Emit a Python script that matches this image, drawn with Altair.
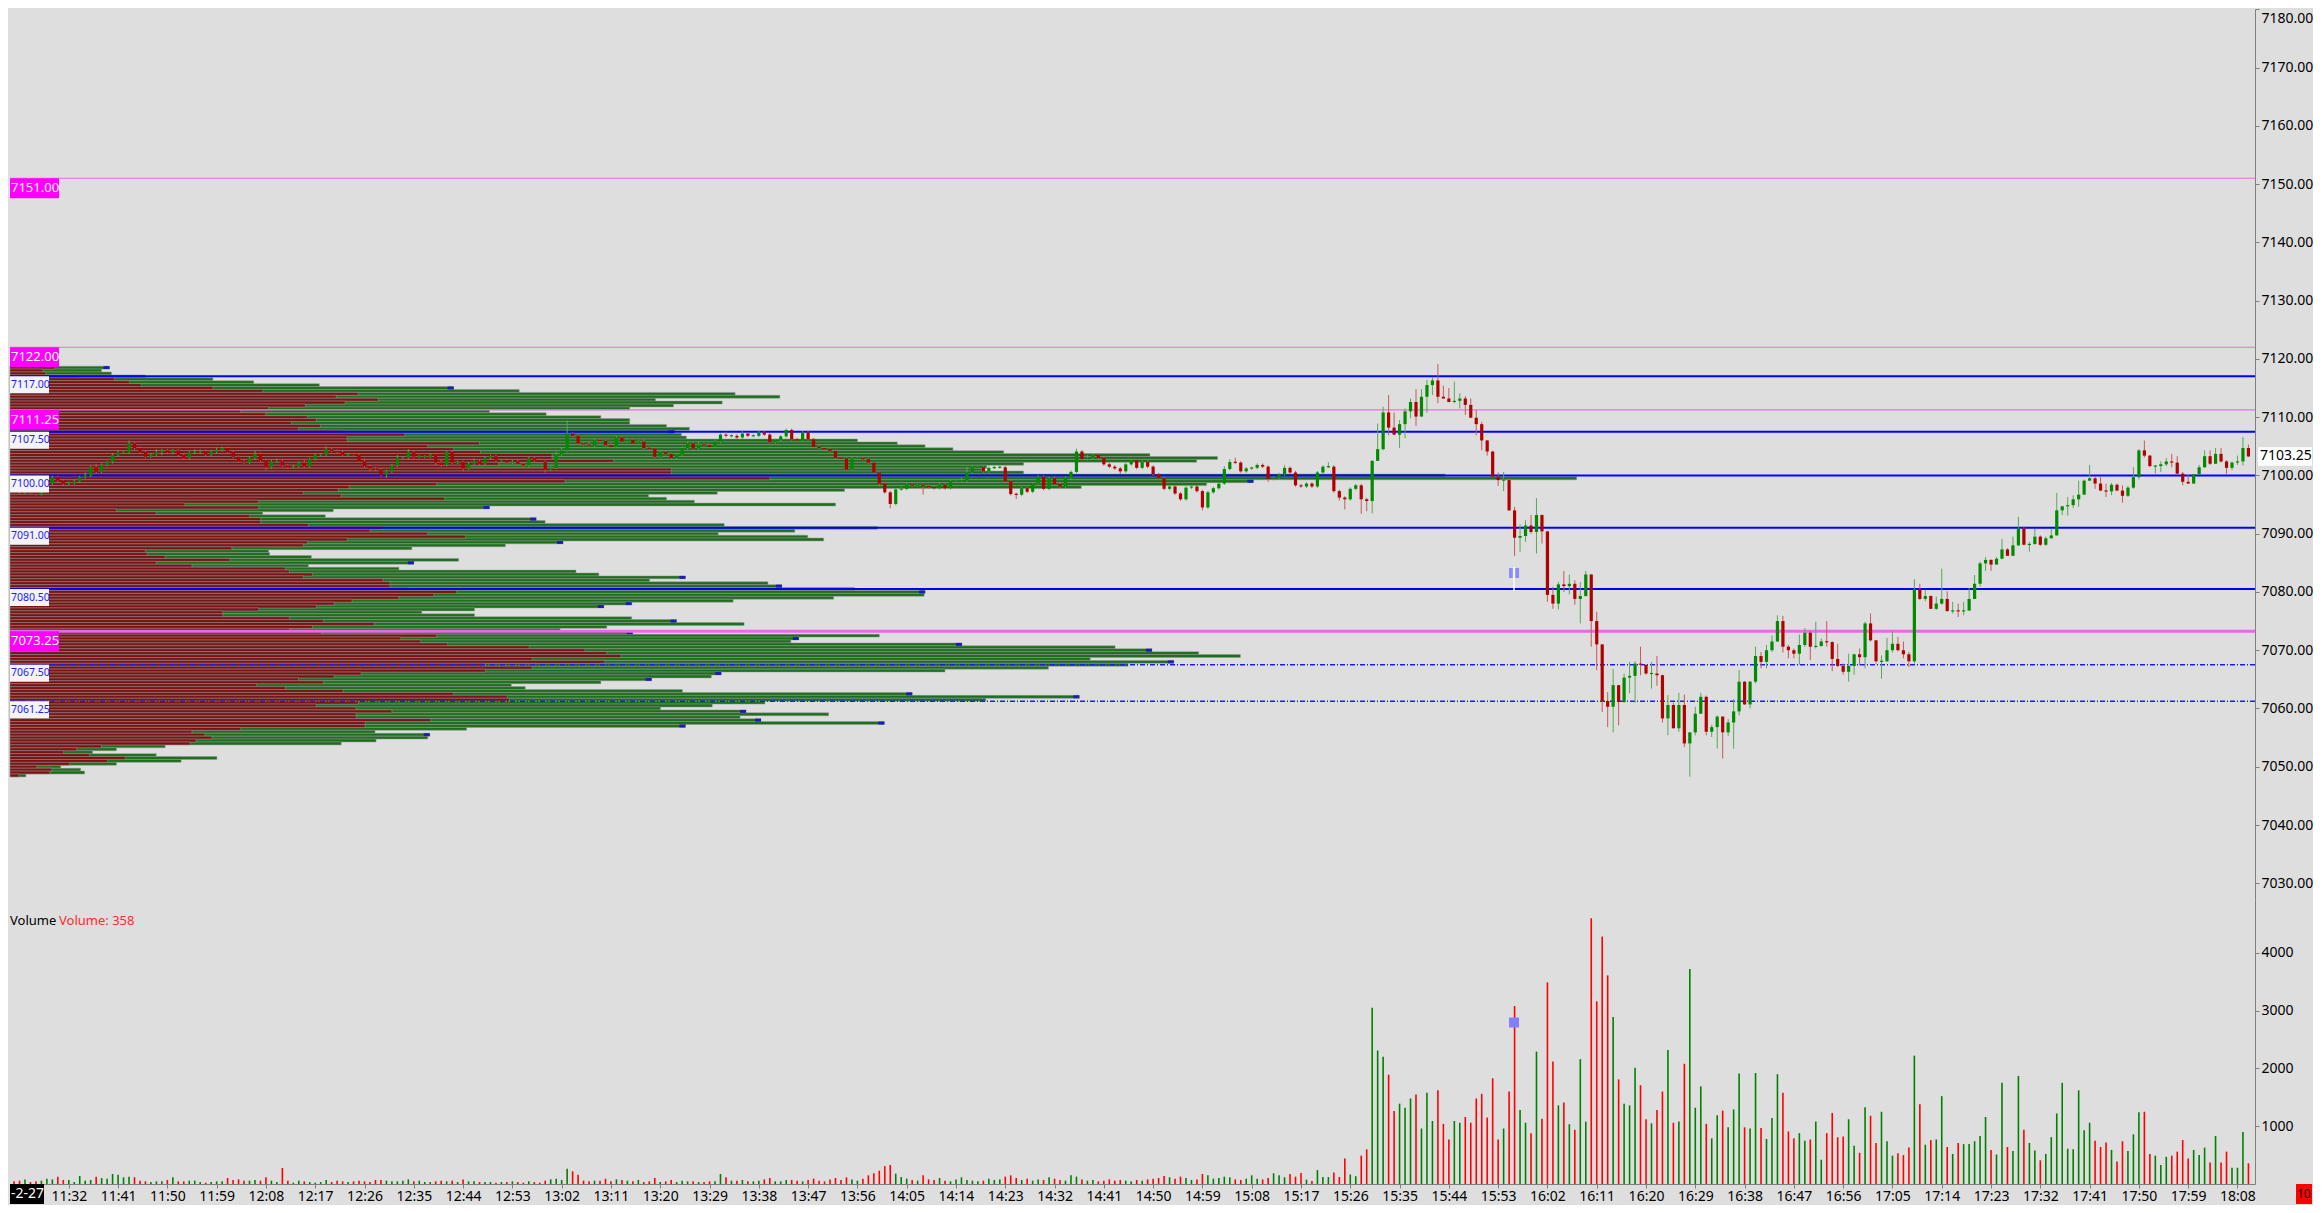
import altair as alt
import pandas as pd

W, H1, H2 = 2245, 890, 285

PRICE_MIN, PRICE_MAX = 7027.3, 7180.05
VOL_MAX = 4931
price_ticks = list(range(7030, 7181, 10))
vol_ticks = [1000, 2000, 3000, 4000]

# ---------------- candles (1 minute, from 11:22) ----------------
first_open = 7097.75
closes = [
    7097.5, 7097.1, 7097.1, 7097.0, 7096.8, 7098.6, 7098.6, 7099.7, 7099.1, 7098.6,
    7098.7, 7099.0, 7099.7, 7100.0, 7101.4, 7100.6, 7101.8, 7102.3, 7103.5, 7103.9,
    7103.9, 7105.5, 7104.7, 7104.0, 7103.2, 7103.6, 7104.0, 7104.3, 7103.9, 7104.3,
    7103.5, 7103.0, 7103.9, 7104.0, 7104.2, 7103.6, 7104.0, 7104.3, 7104.7, 7104.0,
    7103.2, 7102.4, 7102.2, 7103.0, 7103.7, 7102.6, 7101.4, 7102.4, 7102.4, 7101.7,
    7101.4, 7101.6, 7102.2, 7101.6, 7102.8, 7103.5, 7103.6, 7104.5, 7104.2, 7104.0,
    7103.5, 7103.6, 7103.5, 7102.4, 7101.6, 7101.2, 7101.0, 7100.1, 7100.7, 7101.7,
    7103.0, 7103.0, 7104.0, 7103.2, 7103.2, 7103.2, 7103.6, 7102.2, 7101.8, 7104.0,
    7102.2, 7102.3, 7101.2, 7102.0, 7102.4, 7102.0, 7103.0, 7103.3, 7102.6, 7102.6,
    7102.2, 7102.4, 7102.0,
    7101.7, 7102.9, 7102.6, 7102.3, 7101.0, 7101.3, 7103.6, 7104.3, 7107.2, 7106.8,
    7105.5, 7105.3, 7105.1, 7106.1, 7105.9, 7105.2, 7104.9, 7106.5, 7105.8, 7106.1,
    7105.5, 7105.8, 7104.7, 7104.6, 7103.2, 7104.0, 7103.7, 7103.0, 7103.6, 7104.7,
    7105.5, 7104.6, 7105.3, 7105.2, 7104.9, 7105.8, 7107.0, 7106.8, 7106.8, 7106.5,
    7107.2, 7106.8, 7106.8, 7107.4, 7107.0, 7105.7, 7106.1, 7106.7, 7107.8, 7106.2,
    7106.0, 7107.4, 7106.2, 7104.9, 7104.7, 7104.5, 7104.2, 7103.0, 7102.9, 7101.0,
    7102.9, 7102.9, 7102.8, 7102.2, 7100.5, 7098.6, 7097.1, 7095.1, 7097.6, 7097.7,
    7098.4, 7098.3, 7098.3, 7098.2, 7098.0, 7097.8, 7098.4, 7097.8, 7099.0, 7099.0,
    7099.1, 7100.5, 7101.4, 7101.4, 7100.7, 7101.3, 7101.4, 7101.4, 7099.0, 7096.8,
    7096.7, 7097.8, 7097.2, 7098.6, 7099.8,
    7097.7, 7099.5, 7098.5, 7098.1, 7099.6, 7100.6, 7104.1, 7102.8, 7103.0, 7103.5,
    7103.0, 7101.9, 7101.5, 7101.2, 7100.7, 7101.9, 7102.6, 7101.3, 7102.3, 7101.5,
    7100.2, 7099.5, 7097.7, 7098.1, 7096.9, 7095.9, 7097.9, 7098.1, 7097.3, 7094.5,
    7097.1, 7097.8, 7098.6, 7101.1, 7102.3, 7102.2, 7100.7, 7101.2, 7101.3, 7101.8,
    7101.5, 7099.4, 7099.6, 7100.2, 7101.3, 7100.5, 7098.3, 7098.1, 7098.6, 7098.1,
    7100.5, 7101.5, 7101.5, 7097.3, 7096.2, 7095.9, 7097.7, 7098.3, 7095.9, 7095.6,
    7102.5, 7104.5, 7110.8, 7108.2, 7107.0, 7108.8, 7111.0, 7112.6, 7110.1, 7113.5,
    7115.5, 7116.3, 7113.5, 7113.2, 7112.6, 7112.8, 7113.2, 7112.1, 7109.9, 7108.8,
    7106.0, 7104.1, 7099.8, 7099.2, 7099.2, 7094.0, 7089.3, 7089.6, 7091.4, 7090.3,
    7093.2, 7090.4, 7079.5,
    7078.0, 7081.3, 7081.0, 7081.4, 7078.8, 7079.3, 7083.0, 7075.0, 7071.0, 7061.3,
    7060.3, 7064.0, 7061.1, 7065.3, 7065.6, 7067.7, 7067.5, 7066.0, 7066.0, 7065.7,
    7058.3, 7060.6, 7056.6, 7060.6, 7054.0, 7055.9, 7059.1, 7062.0, 7056.0, 7056.8,
    7058.6, 7055.9, 7057.6, 7059.5, 7064.6, 7060.7, 7064.6, 7069.0, 7068.0, 7070.0,
    7071.5, 7075.0, 7070.6, 7070.0, 7069.4, 7070.9, 7073.0, 7070.6, 7070.7, 7071.5,
    7071.4, 7068.5, 7067.3, 7066.3, 7067.3, 7069.3, 7068.8, 7074.6, 7071.7, 7068.1,
    7068.1, 7070.0, 7071.1, 7070.0, 7069.3, 7068.1, 7080.5, 7078.8, 7079.3, 7077.1,
    7078.0, 7078.8, 7076.7, 7076.8, 7076.7, 7076.8, 7078.8, 7081.4, 7084.9, 7085.5,
    7084.7, 7085.7, 7087.3, 7086.2, 7088.0, 7090.9, 7088.1, 7088.2, 7089.5, 7088.1,
    7089.2, 7089.7,
    7094.0, 7094.7, 7094.9, 7095.9, 7096.7, 7099.1, 7099.5, 7098.6, 7097.4, 7097.25,
    7098.4, 7097.4, 7096.5, 7097.9, 7099.7, 7104.3, 7103.4, 7101.6, 7101.6, 7101.9,
    7102.4, 7102.2, 7100.3, 7098.9, 7098.6, 7100.2, 7101.4, 7103.3, 7102.0, 7103.7,
    7102.4, 7101.3, 7102.2, 7102.4, 7104.7, 7103.25,
]

# wick lengths (quarter points) for the quiet session part
wick_up_q = [
    1, 1, 0, 1, 1, 1, 2, 1, 1, 1,  1, 1, 1, 2, 1, 2, 1, 1, 1, 2,
    1, 2, 1, 1, 1, 1, 2, 1, 1, 1,  1, 1, 1, 2, 1, 1, 1, 2, 1, 1,
    1, 1, 1, 1, 2, 1, 1, 1, 2, 1,  1, 1, 1, 2, 1, 1, 1, 2, 1, 1,
    1, 1, 1, 1, 2, 1, 1, 1, 1, 1,  2, 1, 2, 1, 1, 1, 1, 1, 2, 1,
    1, 1, 1, 1, 2, 1, 1, 1, 1, 1,  1, 1, 1, 1, 1, 1, 1, 1, 1, 2,
    2, 9, 1, 1, 1, 2, 1, 1, 1, 2,  1, 1, 1, 1, 1, 2, 1, 1, 1, 1,
    1, 1, 1, 1, 1, 2, 1, 1, 1, 1,  2, 1, 1, 2, 1, 1, 1, 1, 1, 1,
    1, 1, 1, 1, 1, 1, 1, 1, 1, 1,  1, 1, 1, 1, 1, 1, 1, 1, 1, 1,
    1, 1, 1, 1, 1, 1, 1, 1, 1, 1,  1, 1, 1, 2, 4, 1, 1, 1, 1, 1,
    1, 1, 1, 1, 1, 1, 1, 1, 1, 1,  1, 1, 1, 1, 2, 1, 2, 1, 1, 1,
    1, 1, 1, 1, 1, 1, 1, 1, 1, 1,  1, 1, 1, 1, 1, 1, 1, 1, 1, 1,
    1, 2, 2, 3, 1, 1, 1, 1, 1, 1,  1, 1, 2, 1, 1, 1, 1, 1, 1, 1,
    3, 1, 1, 1, 1, 1, 1, 1,
]
wick_dn_q = [
    1, 1, 1, 1, 1, 1, 1, 1, 1, 1,  1, 1, 1, 1, 1, 1, 1, 1, 1, 1,
    1, 1, 1, 1, 1, 1, 1, 2, 1, 1,  1, 1, 1, 1, 1, 1, 1, 1, 1, 1,
    1, 1, 1, 1, 1, 1, 2, 1, 1, 1,  1, 1, 1, 1, 1, 1, 1, 1, 1, 1,
    1, 1, 1, 1, 1, 2, 1, 1, 2, 1,  1, 1, 1, 1, 1, 1, 1, 2, 1, 1,
    1, 1, 2, 1, 1, 1, 1, 1, 1, 1,  1, 1, 1, 1, 1, 1, 1, 2, 1, 1,
    1, 1, 1, 1, 1, 1, 1, 1, 1, 1,  1, 1, 1, 1, 1, 1, 1, 1, 1, 1,
    1, 1, 1, 1, 1, 1, 1, 1, 1, 1,  1, 1, 1, 1, 1, 1, 1, 1, 1, 1,
    1, 1, 1, 1, 1, 1, 1, 1, 1, 1,  1, 1, 1, 1, 1, 1, 1, 1, 2, 1,
    3, 1, 1, 1, 1, 1, 6, 1, 1, 1,  1, 1, 1, 1, 1, 1, 1, 1, 1, 1,
    1, 1, 1, 3, 1, 1, 1, 1, 1, 1,  1, 1, 1, 1, 1, 1, 1, 1, 1, 1,
    1, 1, 2, 1, 1, 1, 1, 1, 1, 1,  1, 1, 1, 1, 1, 1, 1, 2, 1, 1,
    1, 1, 1, 1, 1, 1, 1, 1, 1, 2,  1, 1, 1, 1, 1, 1, 1, 1, 1, 1,
    1, 1, 2, 7, 1, 1, 10, 7,
]
# highs / lows for the active part (from 15:30)
high_late = [
    7102.6, 7108.9, 7111.8, 7113.8, 7110.8, 7109.5, 7111.5, 7113.2, 7114.8, 7114.8,
    7116.4, 7116.9, 7119.1, 7115.4, 7115.0, 7116.1, 7114.1, 7113.6, 7113.2, 7111.2,
    7109.2, 7106.1, 7104.2, 7100.5, 7100.6, 7099.5, 7094.6, 7091.6, 7092.3, 7093.2,
    7096.1, 7093.3, 7090.4, 7080.9,
    7081.7, 7083.6, 7083.0, 7082.0, 7081.7, 7083.6, 7083.0, 7076.6, 7071.0, 7062.8,
    7066.8, 7062.9, 7066.0, 7068.0, 7068.1, 7070.6, 7067.5, 7068.0, 7069.0, 7065.8,
    7062.3, 7061.0, 7062.7, 7062.4, 7055.9, 7060.3, 7062.7, 7062.2, 7057.2, 7058.8,
    7058.7, 7058.2, 7061.6, 7066.6, 7064.7, 7064.7, 7070.6, 7069.7, 7070.9, 7072.5,
    7076.0, 7075.9, 7070.9, 7070.3, 7072.7, 7073.8, 7073.3, 7074.9, 7072.0, 7075.0,
    7071.5, 7071.1, 7067.7, 7069.4, 7069.4, 7070.3, 7074.9, 7076.3, 7071.5, 7069.1,
    7072.1, 7073.3, 7072.3, 7071.5, 7069.7, 7082.2, 7081.4, 7080.3, 7079.4, 7079.2,
    7084.0, 7080.1, 7078.3, 7078.0, 7078.3, 7080.7, 7082.9, 7085.2, 7086.0, 7085.6,
    7086.0, 7089.1, 7087.5, 7089.5, 7092.9, 7091.3, 7088.6, 7090.8, 7089.7, 7089.5,
    7090.8,
    7097.0, 7094.7, 7096.3, 7096.6, 7099.1, 7099.3, 7101.8, 7099.9, 7099.7, 7098.6,
    7098.7, 7098.6, 7098.3, 7098.2, 7101.4, 7104.5, 7106.0, 7103.5, 7101.8, 7102.4,
    7103.0, 7103.7, 7103.3, 7100.6, 7100.1, 7100.1, 7101.8, 7104.3, 7104.3, 7104.7,
    7104.7, 7102.6, 7102.4, 7103.4, 7106.6, 7105.3,
]
low_late = [
    7093.5, 7102.6, 7104.3, 7106.9, 7106.9, 7104.7, 7106.4, 7109.8, 7108.5, 7110.1,
    7110.8, 7113.8, 7112.4, 7113.2, 7112.6, 7112.4, 7111.5, 7110.4, 7109.9, 7106.9,
    7104.3, 7103.4, 7099.7, 7098.2, 7097.3, 7093.9, 7086.2, 7086.9, 7088.6, 7090.0,
    7086.6, 7088.3, 7078.3, 7077.1,
    7077.0, 7080.0, 7079.6, 7077.8, 7074.6, 7079.2, 7070.6, 7066.6, 7059.4, 7056.8,
    7055.9, 7057.1, 7061.0, 7062.6, 7061.0, 7065.7, 7065.8, 7063.4, 7063.9, 7057.6,
    7055.4, 7056.6, 7056.0, 7053.4, 7048.3, 7055.4, 7059.1, 7055.4, 7055.1, 7053.1,
    7051.4, 7055.3, 7053.1, 7058.8, 7060.6, 7060.0, 7064.3, 7066.9, 7066.9, 7069.7,
    7071.4, 7069.6, 7068.6, 7068.6, 7067.5, 7070.6, 7068.3, 7070.3, 7070.9, 7070.6,
    7066.4, 7067.1, 7065.8, 7064.6, 7065.8, 7067.4, 7066.9, 7071.5, 7067.7, 7065.1,
    7068.0, 7069.6, 7069.8, 7068.6, 7067.1, 7067.7, 7078.6, 7078.4, 7077.6, 7076.9,
    7077.8, 7076.9, 7076.3, 7075.7, 7076.0, 7077.3, 7079.0, 7080.9, 7083.6, 7083.6,
    7084.7, 7085.6, 7086.2, 7086.4, 7087.9, 7088.0, 7086.9, 7088.3, 7087.9, 7087.9,
    7089.2,
    7093.1, 7093.2, 7093.1, 7094.4, 7094.6, 7096.7, 7099.3, 7097.7, 7097.3, 7096.3,
    7096.6, 7097.3, 7095.3, 7096.3, 7097.7, 7099.3, 7103.1, 7101.4, 7100.3, 7100.6,
    7101.6, 7101.4, 7100.1, 7098.3, 7098.6, 7098.7, 7100.1, 7101.3, 7101.8, 7102.2,
    7102.2, 7100.3, 7100.9, 7101.8, 7101.7, 7103.2,
]
volumes = [
    46, 58, 80, 35, 46, 58, 92, 80, 127, 70,
    70, 35, 139, 58, 70, 127, 104, 92, 173, 162,
    116, 127, 116, 58, 46, 35, 46, 46, 70, 116,
    46, 46, 58, 58, 35, 23, 35, 46, 46, 104,
    70, 80, 58, 58, 70, 58, 116, 58, 35, 277,
    58, 23, 58, 46, 35, 23, 35, 70, 35, 58,
    46, 35, 46, 58, 46, 35, 70, 70, 58, 46,
    46, 58, 80, 46, 58, 35, 35, 46, 58, 46,
    58, 35, 80, 46, 46, 35, 35, 35, 23, 35,
    35, 46, 35, 23, 46, 35, 23, 58, 80, 92,
    70, 266, 220, 162, 58, 46, 58, 58, 92, 46,
    80, 70, 58, 46, 70, 35, 46, 104, 35, 46,
    70, 35, 58, 46, 46, 35, 35, 46, 46, 173,
    116, 58, 58, 70, 46, 46, 58, 80, 104, 46,
    46, 70, 70,
    58, 46, 70, 92, 58, 46, 80, 104, 70, 116,
    80, 58, 92, 150, 185, 230, 310, 330, 180, 120,
    92, 70, 58, 150, 80, 70, 104, 58, 46, 80,
    116, 70, 58, 46, 58, 92, 70, 80, 127, 150,
    104, 70, 92, 58, 80, 70, 116, 92, 70, 58,
    150, 127, 80, 58, 70, 46, 58, 80, 58, 70,
    58, 46, 70, 58, 80, 92, 104, 140, 116, 92,
    127, 104, 70, 80, 173, 150, 92, 104, 127, 116,
    80, 70, 92, 150, 92, 80, 104, 185, 150, 116,
    173, 127,
    190, 75, 50, 240, 120, 120, 200, 120, 440, 165,
    135, 490, 600, 3050, 2310, 2200, 1890, 1265, 1390, 1320,
    1480, 1550, 960, 1580, 1090, 1620, 1040, 770, 1090, 1060,
    1160, 1060, 1480, 1560, 1150, 1830, 770, 960, 1600, 3080,
    1280, 1060, 880, 2290, 1130, 3490, 2120, 1360, 1410, 1035,
    940, 2160, 1080, 4600, 3160, 4280, 3610, 2890, 1810, 1390,
    1360, 2010, 1710, 1120, 1050, 1280, 1600, 2320, 1060, 1080,
    2080, 3720, 1320, 1690, 1040, 790, 1190, 1270, 980, 1290,
    1910, 980, 960, 1920, 970, 780, 1140, 1900, 1580, 910,
    790, 880, 750, 770, 1080, 420, 880, 1230, 810, 820,
    1120, 660, 540, 1330, 1180, 710, 1250, 740, 490, 530,
    500, 630, 2220, 1380, 680, 760, 770, 1520, 640, 520,
    710, 690, 690, 740, 830, 1160, 590, 510, 1750, 640,
    570, 1870, 940, 710, 580, 410, 520, 810, 1220, 1750,
    610, 600, 1620, 930, 1060, 750, 640, 720, 590, 390,
    740, 570, 860, 1240, 1250, 520, 490, 330, 470, 490,
    560, 760, 440, 590, 500, 630, 370, 830, 370, 560,
    280, 280, 900, 358,
]

# ---------------- volume profile (rows of 0.5 pt, from top) ----------------
prof_top = 7118.5
prof_red = [
    45, 33, 36, 67, 105, 120, 132, 204, 254, 350,
    328, 370, 337, 297, 260, 232, 257, 299, 308, 283,
    312, 290, 335, 397, 339, 339, 472, 420, 446, 473,
    545, 545, 607, 491, 460, 665, 665, 665, 764, 558,
    429, 341, 330, 295, 333, 437, 250, 176, 250, 107,
    147, 241, 252, 252, 300, 375, 362, 420, 458, 339,
    299, 295, 223, 136, 138, 156, 221, 147, 183, 277,
    281, 304, 295, 375, 382, 382, 400, 449, 426, 391,
    344, 326, 308, 250, 214, 214, 281, 315, 366, 304,
    281, 313, 429, 393, 413, 440, 522, 578, 600, 614,
    525, 598, 478, 525, 478, 353, 326, 290, 315, 248,
    277, 335, 446, 500, 502, 350, 308, 348, 384, 348,
    348, 423, 357, 357, 232, 183, 196, 203, 187, 181,
    92, 67, 54, 80, 116, 98, 60, 27, 42, 40,
    9,
]
prof_total = [
    100, 92, 102, 136, 204, 245, 311, 446, 512, 729,
    774, 649, 716, 667, 623, 482, 539, 594, 623, 623,
    660, 683, 668, 675, 680, 852, 892, 920, 948, 999,
    1146, 1214, 1193, 1019, 982, 977, 1019, 1443, 1575, 1250,
    1203, 1077, 839, 711, 642, 660, 688, 830, 482, 325,
    254, 317, 529, 538, 718, 872, 789, 712, 802, 818,
    556, 498, 404, 260, 261, 303, 451, 406, 300, 391,
    569, 592, 679, 643, 762, 776, 849, 920, 919, 828,
    727, 625, 597, 467, 414, 467, 625, 670, 738, 600,
    553, 626, 874, 793, 785, 957, 1111, 1148, 1195, 1237,
    1086, 1170, 1124, 1044, 940, 715, 705, 645, 594, 504,
    518, 676, 907, 1075, 981, 759, 706, 654, 740, 823,
    734, 755, 879, 679, 459, 367, 422, 420, 368, 333,
    156, 107, 83, 147, 208, 172, 107, 51, 71, 75,
    16,
]
prof_tips = [7118.5, 7115.0, 7107.5, 7099.0, 7094.5, 7092.5, 7088.5, 7085.0,
             7082.5, 7081.0, 7080.0, 7078.0, 7077.5, 7075.0, 7073.0, 7072.0,
             7071.0, 7070.0, 7068.0, 7066.0, 7065.0, 7062.5, 7062.0, 7059.5,
             7058.0, 7057.5, 7057.0, 7055.5]

# ---------------- levels ----------------
blue_levels = [7117.00, 7107.50, 7100.00, 7091.00, 7080.50]
dash_levels = [7067.50, 7061.25]
magenta_thin = [7151.00, 7122.00, 7111.25]
magenta_thick = [7073.25]
magenta_labels = [7151.00, 7122.00, 7111.25, 7073.25]
blue_labels = [7117.00, 7107.50, 7100.00, 7091.00, 7080.50, 7067.50, 7061.25]
last_price = 7103.25
last_volume = 358
marker_price = [7080.2, 7084.3, 7083.25]
marker_volume = 2794

# ---------------- build tables ----------------
n = len(closes)
times = pd.date_range("2025-02-27 11:22:00", periods=n, freq="min")
opens = [first_open] + closes[:-1]
ne = len(wick_up_q)
rows = []
for i in range(n):
    o, c = opens[i], closes[i]
    if i < ne:
        h = max(o, c) + 0.25 * wick_up_q[i]
        l = min(o, c) - 0.25 * wick_dn_q[i]
    else:
        h = max(high_late[i - ne], o, c)
        l = min(low_late[i - ne], o, c)
    up = c >= o
    blo, bhi = min(o, c), max(o, c)
    if bhi - blo < 0.2:
        mid = (o + c) / 2
        blo, bhi = mid - 0.1, mid + 0.1
    rows.append(dict(t=times[i], h=h, l=l, blo=blo, bhi=bhi,
                     vol=volumes[i], zero=0,
                     bcol="#008a00" if up else "#b00000",
                     wcol="#58a858" if up else "#c85858",
                     vcol="#008000" if up else "#ff0000"))
cdf = pd.DataFrame(rows)

n_prof = len(prof_total)
pdf = pd.DataFrame(dict(p=[prof_top - 0.5 * i for i in range(n_prof)],
                        red=prof_red, tot=prof_total))
pdf["p_lo"] = pdf.p - 0.25
pdf["p_hi"] = pdf.p + 0.25
pdf["zero"] = 0
pdf["tip0"] = pdf.tot - 6
tips_df = pdf[pdf.p.isin(prof_tips)]


def dt(h, m, s=0):
    return alt.DateTime(year=2025, month=2, date=27, hours=h, minutes=m, seconds=s)


t_scale = alt.Scale(domain=[dt(11, 21, 16), dt(18, 11, 12)])
tick_vals = []
for k in range(45):
    mm = 11 * 60 + 32 + 9 * k
    tick_vals.append(dt(mm // 60, mm % 60))

FONT = "Noto Sans"
yscale = alt.Scale(domain=[PRICE_MIN, PRICE_MAX], nice=False, zero=False)
yaxis = alt.Axis(orient="right", values=price_ticks, format=".2f", title=None, grid=False,
                 labelFont=FONT, labelFontSize=14, labelColor="#000000",
                 tickColor="#7f7f7f", tickSize=4, domainColor="#7f7f7f",
                 labelPadding=2, labelFlush=3, labelFlushOffset=-2)


def Y(f):
    return alt.Y(f, type="quantitative", scale=yscale, axis=yaxis)


pscale = alt.Scale(domain=[0, 2257], nice=False, zero=False)
X_t = alt.X("t:T", scale=t_scale, axis=None)

prof_green = alt.Chart(pdf).mark_rect(color="#1e6e1e", stroke="#969696", strokeWidth=0.5).encode(
    x=alt.X("zero:Q", scale=pscale, axis=None), x2=alt.X2("tot"), y=Y("p_lo"), y2=alt.Y2("p_hi"))
prof_redl = alt.Chart(pdf).mark_rect(color="#7a1414", stroke="#969696", strokeWidth=0.5).encode(
    x=alt.X("zero:Q", scale=pscale, axis=None), x2=alt.X2("red"), y=Y("p_lo"), y2=alt.Y2("p_hi"))
prof_tip = alt.Chart(tips_df).mark_rect(color="#1c1cb8").encode(
    x=alt.X("tip0:Q", scale=pscale, axis=None), x2=alt.X2("tot"), y=Y("p_lo"), y2=alt.Y2("p_hi"))


def hlines(levels, color, width, dash=None):
    kw = dict(color=color, strokeWidth=width)
    if dash:
        kw["strokeDash"] = dash
    return alt.Chart(pd.DataFrame({"p": levels})).mark_rule(**kw).encode(
        y=Y("p"), x=alt.value(0), x2=alt.value(W))


l_mag = hlines(magenta_thin, "#e272e2", 1.2)
l_blue = hlines(blue_levels, "#0000ff", 2)
l_magt = hlines(magenta_thick, "#ee66ee", 3)
l_dash = hlines(dash_levels, "#1a1aff", 1.5, [5, 2, 1, 2])

wicks = alt.Chart(cdf).mark_rule(strokeWidth=1).encode(
    x=X_t, y=Y("l"), y2=alt.Y2("h"), color=alt.Color("wcol:N", scale=None))
bodies = alt.Chart(cdf).mark_rule(strokeWidth=3.2).encode(
    x=X_t, y=Y("blo"), y2=alt.Y2("bhi"), color=alt.Color("bcol:N", scale=None))

mk = pd.DataFrame({"t": [pd.Timestamp("2025-02-27 15:55:54")], "lo": [marker_price[0]],
                   "hi": [marker_price[1]], "mid": [marker_price[2]], "v": [marker_volume]})
mk_line = alt.Chart(mk).mark_rule(color="white", strokeWidth=1.5).encode(x=X_t, y=Y("lo"), y2=alt.Y2("hi"))
mk_sq = alt.Chart(mk).mark_point(shape="M-1,-1H-0.25V1H-1Z M0.25,-1H1V1H0.25Z", size=100, filled=True,
                                 color="#8c8cff", opacity=1, strokeWidth=0).encode(x=X_t, y=Y("mid"))

mlab = pd.DataFrame({"p": magenta_labels})
mlab["txt"] = mlab.p.map(lambda v: f"{v:.2f}")
blab = pd.DataFrame({"p": blue_labels})
blab["txt"] = blab.p.map(lambda v: f"{v:.2f}")

mag_box = alt.Chart(mlab).mark_point(shape="M-1,0H1V0.816H-1Z", size=2401, filled=True,
                                     color="#ff00ff", opacity=1, strokeWidth=0).encode(
    x=alt.value(24.5), y=Y("p"))
mag_txt = alt.Chart(mlab).mark_text(align="left", baseline="middle", dy=10, font=FONT,
                                    fontSize=13, color="#ffffff").encode(
    x=alt.value(1), y=Y("p"), text="txt:N")
blue_box = alt.Chart(blab).mark_point(shape="M-1,0H1V0.872H-1Z", size=1521, filled=True,
                                      color="#f4f4f6", opacity=1, strokeWidth=0).encode(
    x=alt.value(19.5), y=Y("p"))
blue_txt = alt.Chart(blab).mark_text(align="left", baseline="middle", dy=8.5, font=FONT,
                                     fontSize=10.5, color="#1a1aff").encode(
    x=alt.value(1), y=Y("p"), text="txt:N")

tag = pd.DataFrame({"p": [last_price], "txt": [f"{last_price:.2f}"]})
tag_box = alt.Chart(tag).mark_point(shape="M-1,-0.34H1V0.34H-1Z", size=2916, filled=True,
                                    color="#ffffff", opacity=1, strokeWidth=0).encode(
    x=alt.value(W + 30), y=Y("p"))
tag_txt = alt.Chart(tag).mark_text(align="left", baseline="middle", font=FONT, fontSize=14,
                                   color="#000000").encode(x=alt.value(W + 5), y=Y("p"), text="txt:N")

price = alt.layer(
    prof_green, prof_redl, prof_tip, l_mag, l_blue, l_magt, l_dash,
    wicks, bodies, mk_line, mk_sq, mag_box, mag_txt, blue_box, blue_txt, tag_box, tag_txt
).resolve_scale(x="independent").properties(width=W, height=H1)

# ---------------- volume panel ----------------
vscale = alt.Scale(domain=[0, VOL_MAX], nice=False, zero=True)
vaxis = alt.Axis(orient="right", values=vol_ticks, format="d", title=None, grid=False,
                 labelFont=FONT, labelFontSize=14, labelColor="#000000",
                 tickColor="#7f7f7f", tickSize=4, domainColor="#7f7f7f", labelPadding=2)
xaxis_t = alt.Axis(values=tick_vals, format="%H:%M", title=None, grid=False,
                   labelFont=FONT, labelFontSize=14, labelColor="#000000",
                   tickColor="#7f7f7f", tickSize=4, domainColor="#7f7f7f",
                   labelPadding=1, labelOverlap=False, labelFlush=False)
XV = alt.X("t:T", scale=t_scale, axis=xaxis_t)

vbars = alt.Chart(cdf).mark_rule(strokeWidth=1.6).encode(
    x=XV, y=alt.Y("zero:Q", scale=vscale, axis=vaxis), y2=alt.Y2("vol"),
    color=alt.Color("vcol:N", scale=None))
vmark = alt.Chart(mk).mark_point(shape="square", size=100, filled=True, color="#8080ff",
                                 opacity=1, strokeWidth=0).encode(
    x=XV, y=alt.Y("v:Q", scale=vscale, axis=vaxis))

one = pd.DataFrame({"s": ["Volume"]})
vt1 = alt.Chart(one).mark_text(align="left", baseline="middle", font=FONT, fontSize=13,
                               color="#000000").encode(x=alt.value(0), y=alt.value(22), text="s:N")
vt2 = alt.Chart(pd.DataFrame({"s": [f"Volume: {last_volume}"]})).mark_text(
    align="left", baseline="middle", font=FONT, fontSize=13, color="#ff2a2a").encode(
    x=alt.value(49), y=alt.value(22), text="s:N")
date_box = alt.Chart(one).mark_point(shape="M-1,0H1V1.18H-1Z", size=1156, filled=True,
                                     color="#000000", opacity=1, strokeWidth=0).encode(
    x=alt.value(17), y=alt.value(H2))
date_txt = alt.Chart(pd.DataFrame({"s": ["-2-27"]})).mark_text(
    align="left", baseline="middle", font=FONT, fontSize=14, color="#ffffff").encode(
    x=alt.value(1), y=alt.value(H2 + 10), text="s:N")
red_box = alt.Chart(one).mark_point(shape="M-1,0H1V2.5H-1Z", size=256, filled=True,
                                    color="#ff0000", opacity=1, strokeWidth=0).encode(
    x=alt.value(W + 49), y=alt.value(H2))
red_txt = alt.Chart(pd.DataFrame({"s": ["10"]})).mark_text(
    align="left", baseline="middle", font=FONT, fontSize=12, color="#000000").encode(
    x=alt.value(W + 42), y=alt.value(H2 + 10), text="s:N")

vol = alt.layer(vbars, vmark, vt1, vt2, date_box, date_txt, red_box, red_txt).properties(
    width=W, height=H2)

chart = alt.vconcat(price, vol, spacing=0).resolve_scale(x="independent", y="independent").properties(
    background="#dedede", padding=0).configure_view(strokeWidth=0)

chart.save("out.html", embed_options={"renderer": "svg", "actions": False})
